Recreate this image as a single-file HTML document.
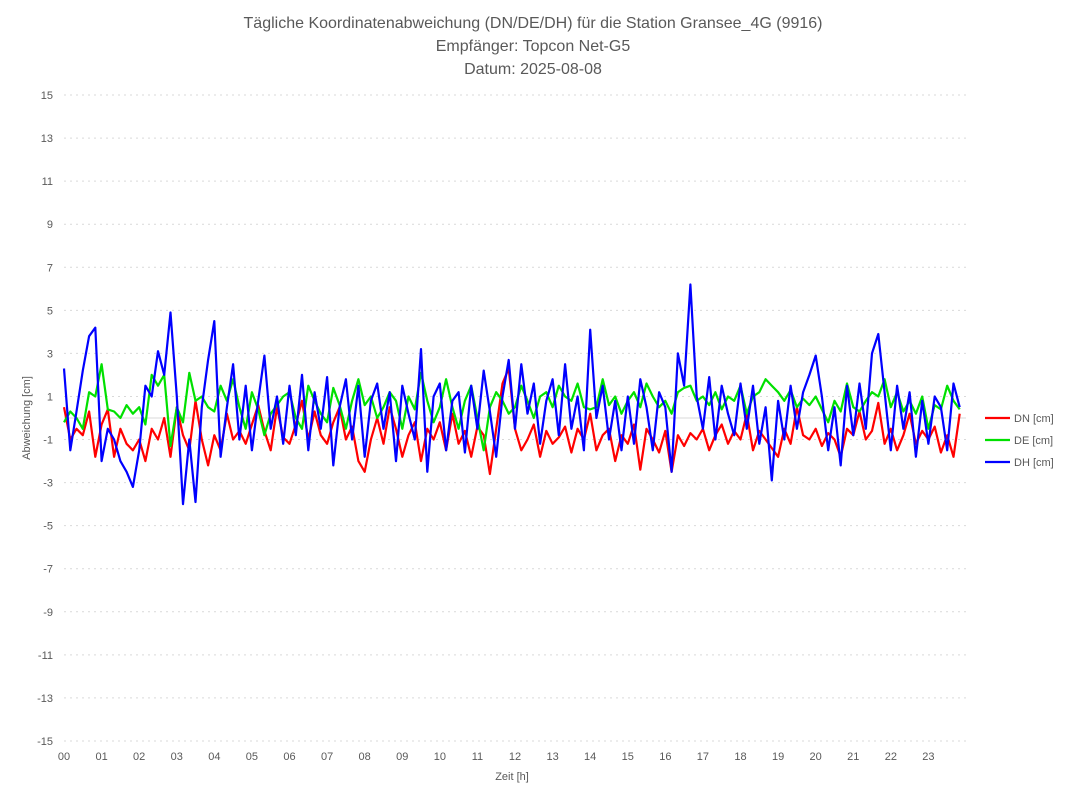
<!DOCTYPE html>
<html><head><meta charset="utf-8"><style>
body{margin:0;background:#fff;font-family:"Liberation Sans",sans-serif}
svg text{font-family:"Liberation Sans",sans-serif}
</style></head><body>
<svg id="chart" width="1068" height="801" xmlns="http://www.w3.org/2000/svg">
<rect width="1068" height="801" fill="#fff"/>
<g fill="#595959" font-size="16" text-anchor="middle">
<text x="533" y="28">Tägliche Koordinatenabweichung (DN/DE/DH) für die Station Gransee_4G (9916)</text>
<text x="533" y="51">Empfänger: Topcon Net-G5</text>
<text x="533" y="74">Datum: 2025-08-08</text>
</g>
<g id="grid"></g>
<g id="yticks" fill="#595959" font-size="11" text-anchor="end"></g>
<g id="xticks" fill="#595959" font-size="11" text-anchor="middle"></g>
<text x="30" y="418" fill="#595959" font-size="11" text-anchor="middle" transform="rotate(-90 30 418)">Abweichung [cm]</text>
<text x="512" y="780" fill="#595959" font-size="11" text-anchor="middle">Zeit [h]</text>
<g id="series"></g>
<g id="legend" font-size="11" fill="#595959"></g>
</svg>
<script>
const yTicks=[15,13,11,9,7,5,3,1,-1,-3,-5,-7,-9,-11,-13,-15];
const xTickLabels=["00","01","02","03","04","05","06","07","08","09","10","11","12","13","14","15","16","17","18","19","20","21","22","23"];
const seriesNames=["DN [cm]","DE [cm]","DH [cm]"];
const stepMinutes=10;
const dn=[0.5,-1.0,-0.5,-0.8,0.3,-1.8,-0.3,0.4,-1.8,-0.5,-1.2,-1.5,
-1.0,-2.0,-0.5,-1.0,0.0,-1.8,0.5,-0.8,-1.5,0.8,-1.0,-2.2,
-0.8,-1.5,0.2,-1.0,-0.6,-1.2,-0.3,0.6,-0.6,-1.5,0.5,-0.9,
-1.2,-0.3,0.8,-1.0,0.3,-0.8,-1.2,-0.2,0.5,-1.0,-0.4,-2.0,
-2.5,-1.0,0.0,-1.2,0.5,-0.5,-1.8,-0.8,-0.2,-2.0,-0.5,-1.0,
-0.2,-1.5,0.2,-1.2,-0.6,-1.8,-0.4,-0.8,-2.6,-0.5,1.6,2.3,
-0.5,-1.5,-1.0,-0.3,-1.8,-0.6,-1.2,-0.9,-0.4,-1.6,-0.5,-1.0,
0.2,-1.5,-0.8,-0.5,-2.0,-0.8,-1.2,-0.3,-2.4,-0.5,-1.0,-1.6,
-0.6,-2.5,-0.8,-1.3,-0.7,-1.0,-0.5,-1.5,-0.8,-0.3,-1.2,-0.6,
-1.0,0.2,-1.5,-0.6,-1.0,-1.4,-1.8,-0.5,-1.2,0.5,-0.8,-1.0,
-0.5,-1.3,-0.7,-1.0,-1.8,-0.5,-0.8,0.3,-1.0,-0.6,0.7,-1.2,
-0.5,-1.5,-0.8,0.2,-1.2,-0.6,-1.0,-0.4,-1.6,-0.8,-1.8,0.2];
const de=[-0.2,0.3,0.0,-0.5,1.2,1.0,2.5,0.4,0.3,0.0,0.6,0.2,
0.5,-0.3,2.0,1.5,2.0,-1.3,0.5,-0.2,2.1,0.8,1.0,0.5,
0.3,1.5,0.8,1.8,0.5,-0.5,1.2,0.4,-0.8,0.2,0.6,1.0,
1.2,0.0,-0.5,1.5,0.8,0.2,-0.2,1.4,0.6,-0.5,0.8,1.8,
0.6,1.0,0.0,0.5,1.2,0.8,-0.5,1.0,0.4,2.1,0.8,-0.2,
0.5,1.8,0.5,-0.5,0.8,1.5,0.0,-1.5,0.5,1.2,0.8,0.2,
0.5,1.5,0.8,0.0,1.0,1.2,0.5,1.5,1.0,0.8,1.6,0.5,
0.4,0.5,1.8,0.6,1.0,0.2,0.8,1.2,0.5,1.6,1.0,0.5,
0.8,0.2,1.2,1.4,1.5,0.8,1.0,0.6,1.2,0.4,1.0,0.8,
1.5,0.2,1.0,1.2,1.8,1.5,1.2,0.8,1.3,0.5,0.9,0.6,
1.0,0.4,-0.2,0.8,0.3,1.6,0.5,0.3,0.8,1.2,1.0,1.8,
0.5,1.2,0.3,0.8,0.2,1.0,-0.5,0.6,0.4,1.5,0.8,0.4];
const dh=[2.3,-1.5,0.3,2.2,3.8,4.2,
-2.0,-0.5,-1.0,-2.0,-2.5,-3.2,
-1.5,1.5,1.0,3.1,2.0,4.9,
1.0,-4.0,-1.0,-3.9,0.5,2.7,
4.5,-1.8,0.5,2.5,-1.0,1.5,
-1.5,0.8,2.9,-0.5,1.0,-1.2,
1.5,-0.8,2.0,-1.5,1.2,-0.5,
1.9,-2.2,0.5,1.8,-1.0,1.5,
-1.8,0.8,1.6,-0.5,1.2,-2.0,
1.5,0.2,-1.0,3.2,-2.5,1.0,
1.6,-1.5,0.8,1.2,-1.6,1.5,
-0.5,2.2,0.3,-1.8,1.0,2.7,
-0.5,2.5,0.2,1.6,-1.2,0.8,
1.8,-0.8,2.5,-0.5,1.0,-1.5,
4.1,0.0,1.5,-1.0,0.8,-1.5,
1.0,-1.2,1.8,0.5,-1.5,1.2,
0.5,-2.5,3.0,1.5,6.2,1.0,
-0.5,1.9,-1.0,1.5,0.2,-0.8,
1.6,-0.5,1.5,-1.2,0.5,-2.9,
0.8,-1.0,1.5,-0.5,1.2,2.0,
2.9,1.0,-1.5,0.5,-2.2,1.5,
-0.8,1.6,-0.5,3.0,3.9,1.2,
-1.5,1.5,-0.5,1.2,-1.8,0.8,
-1.2,1.0,0.5,-1.5,1.6,0.5];
const colors=["#ff0000","#00e000","#0000ff"];

const NS="http://www.w3.org/2000/svg";
const X0=64,X1=966,Y0=95,Y1=741;
const xs=h=>X0+(h/24)*(X1-X0);
const ys=v=>Y0+(15-v)/30*(Y1-Y0);
function mk(tag,attrs,parent){const e=document.createElementNS(NS,tag);for(const k in attrs)e.setAttribute(k,attrs[k]);parent.appendChild(e);return e;}
const grid=document.getElementById('grid'),yt=document.getElementById('yticks'),xt=document.getElementById('xticks');
yTicks.forEach(v=>{
  const l=mk('line',{x1:X0,x2:X1,y1:ys(v),y2:ys(v),stroke:'#d9d9d9','stroke-dasharray':'2,4'},grid);
  
  
  const t=mk('text',{x:53,y:ys(v)+4},yt);t.textContent=v;
  
  
});
const z=mk('line',{x1:X0,x2:X1,y1:ys(0),y2:ys(0),stroke:'#d9d9d9'},grid);


xTickLabels.forEach((s,i)=>{
  const t=mk('text',{x:xs(i),y:760},xt);t.textContent=s;
  
  
});
const sg=document.getElementById('series');
[dn,de,dh].forEach((arr,si)=>{
  const pts=arr.map((v,i)=>xs(i*stepMinutes/60).toFixed(1)+','+ys(v).toFixed(1)).join(' ');
  const p=mk('polyline',{points:pts,fill:'none',stroke:colors[si],'stroke-width':2.2,'stroke-linejoin':'round'},sg);
  
  
});
const lg=document.getElementById('legend');
seriesNames.forEach((n,i)=>{
  const y=418+i*22;
  const l=mk('line',{x1:985,x2:1010,y1:y,y2:y,stroke:colors[i],'stroke-width':2.2},lg);
  
  
  const t=mk('text',{x:1014,y:y+4},lg);t.textContent=n;
  
  
});
</script>
</body></html>
